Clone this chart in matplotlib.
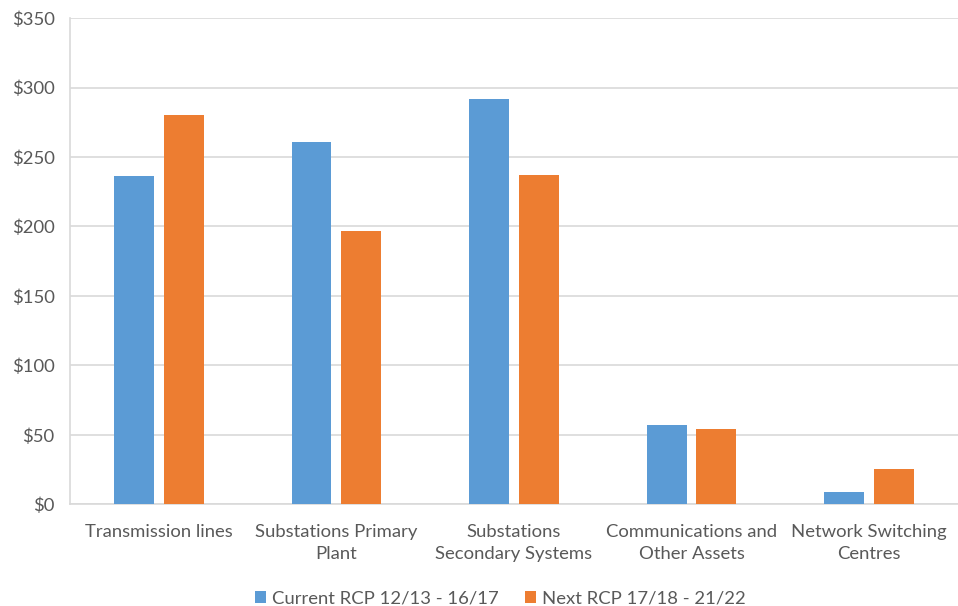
import matplotlib
matplotlib.use("Agg")
import matplotlib.pyplot as plt
import numpy as np

categories = ["Transmission lines", "Substations Primary\nPlant", "Substations\nSecondary Systems",
              "Communications and\nOther Assets", "Network Switching\nCentres"]
current = [236, 261, 292, 57, 9]
next_rcp = [280, 197, 237, 54, 25]
series_names = ["Current RCP 12/13 - 16/17", "Next RCP 17/18 - 21/22"]
yticks = [0, 50, 100, 150, 200, 250, 300, 350]
ytick_labels = ["$0", "$50", "$100", "$150", "$200", "$250", "$300", "$350"]

plt.rcParams['font.family'] = ['Lato', 'DejaVu Sans']
txt = '#595959'

fig = plt.figure(figsize=(9.58, 6.06), dpi=100)
ax = fig.add_axes([0.073, 0.168, 0.927, 0.802])

x = np.arange(len(categories))
w = 0.225
off = 0.14
ax.bar(x - off, current, w, color='#5B9BD5', label=series_names[0], zorder=3)
ax.bar(x + off, next_rcp, w, color='#ED7D31', label=series_names[1], zorder=3)

ax.set_xlim(-0.5, len(categories) - 0.5)
ax.set_ylim(0, 350)
ax.set_yticks(yticks)
ax.set_yticklabels(ytick_labels)
ax.set_xticks(x)
ax.set_xticklabels(categories, linespacing=1.5)
ax.yaxis.grid(True, color='#D9D9D9', linewidth=1.2, zorder=0)
ax.tick_params(axis='both', length=0, labelsize=13.3, colors=txt)
ax.tick_params(axis='x', pad=14)
ax.tick_params(axis='y', pad=11)
for s in ['top', 'right']:
    ax.spines[s].set_visible(False)
ax.spines['left'].set_color('#D9D9D9')
ax.spines['bottom'].set_color('#D9D9D9')
ax.spines['left'].set_linewidth(1.2)
ax.spines['bottom'].set_linewidth(1.2)

leg = fig.legend(loc='lower center', bbox_to_anchor=(0.522, -0.029), ncol=2, frameon=False,
                 fontsize=13.3, handlelength=0.62, handleheight=0.62, handletextpad=0.3,
                 columnspacing=1.4)
for t in leg.get_texts():
    t.set_color(txt)

fig.savefig("out.png", dpi=100)
